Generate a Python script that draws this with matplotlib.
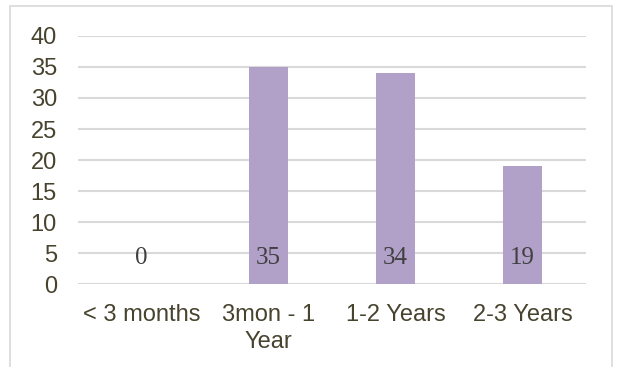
import matplotlib
matplotlib.use("Agg")
import matplotlib.pyplot as plt
from matplotlib.patches import Rectangle

categories = ["< 3 months", "3mon - 1\nYear", "1-2 Years", "2-3 Years"]
values = [0, 35, 34, 19]
yticks = [0, 5, 10, 15, 20, 25, 30, 35, 40]

bar_color = "#b1a0c7"
grid_color = "#d9d9d9"
tick_color = "#47432e"
label_color = "#404040"

fig = plt.figure(figsize=(6.17, 3.67), dpi=100)
ax = fig.add_axes([0.126, 0.226, 0.824, 0.676])

# chart frame
fig.patches.append(Rectangle((0.016, -0.05), 0.976, 1.035, transform=fig.transFigure,
                             fill=False, edgecolor="#d9d9d9", linewidth=1.2))

x = range(len(categories))
ax.bar(x, values, width=0.31, color=bar_color, zorder=2)

for xi, v in zip(x, values):
    ax.annotate(str(v), (xi, 0), xytext=(0, 19), textcoords="offset points",
                ha="center", va="center", fontsize=18, color=label_color,
                family="Liberation Serif", zorder=3)

ax.set_xlim(-0.5, len(categories) - 0.5)
ax.set_ylim(0, 40)
ax.set_yticks(yticks)
ax.yaxis.grid(True, color=grid_color, linewidth=1.5, zorder=0)
ax.set_axisbelow(True)
for s in ax.spines.values():
    s.set_visible(False)
ax.tick_params(axis="both", length=0, labelsize=17, labelcolor=tick_color)
ax.tick_params(axis="y", pad=15)
ax.tick_params(axis="x", pad=14)
ax.set_xticks(list(x))
ax.set_xticklabels(categories, family="Liberation Sans", linespacing=1.35)
for lab in ax.get_yticklabels():
    lab.set_family("Liberation Sans")

fig.savefig("out.png", dpi=100)
